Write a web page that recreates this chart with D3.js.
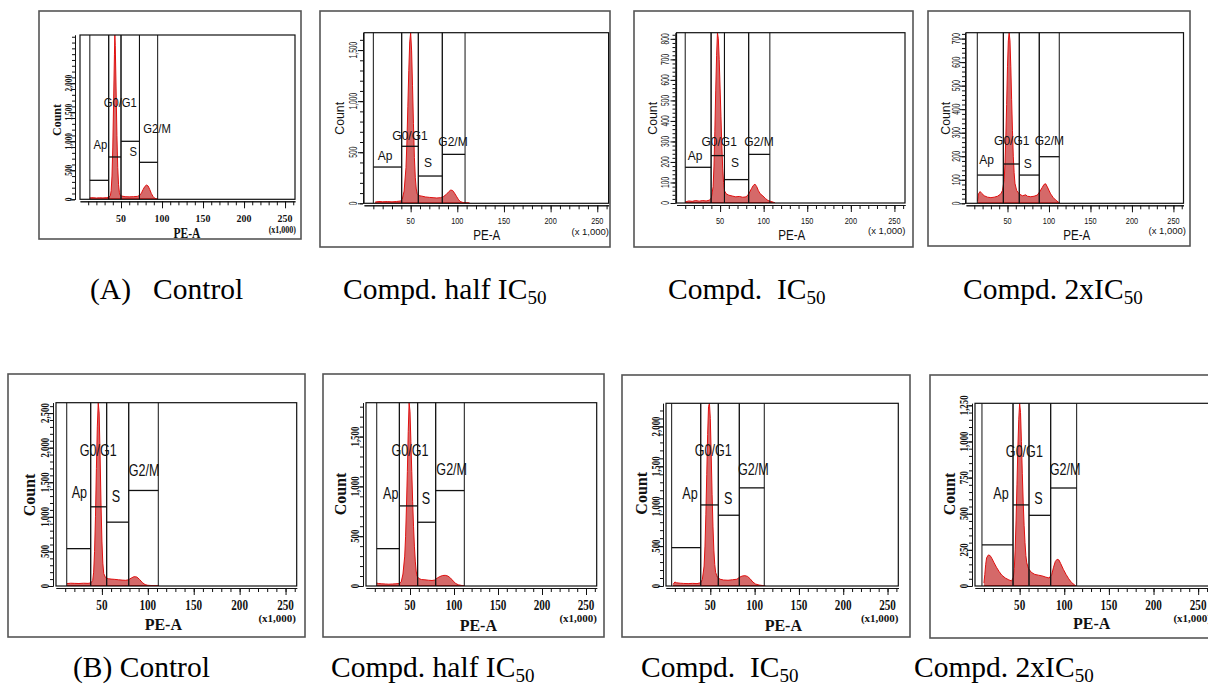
<!DOCTYPE html>
<html>
<head>
<meta charset="utf-8">
<script src="https://cdn.jsdelivr.net/npm/d3@7"></script>
<style>
body{margin:0;background:#fff;}
text{white-space:pre;}
</style>
</head>
<body>
<svg id="fig" width="1208" height="690"></svg>
<script>
var W = 1208, H = 690;
var peMax = 262.144;   // PE-A axis goes to 2^18 (x1,000)

var gateNames = ["Ap", "G0/G1", "S", "G2/M"];
var peLabels = [50, 100, 150, 200, 250];
var peTicks = [10,20,30,40,50,60,70,80,90,100,110,120,130,140,150,160,170,180,190,200,210,220,230,240,250,260];

// histograms: [PE-A (x1,000), count]
var histA1 = [[12,25],[16,28],[20,22],[24,26],[28,24],[32,28],[35,35],[37,60],[38,150],[39,400],[40,900],[41,1700],[42,2500],[42.5,2830],[43,2650],[44,1900],[45,1100],[46,550],[47,250],[48,120],[49,70],[51,55],[55,45],[60,42],[65,45],[70,50],[73,70],[75,110],[77,170],[79,220],[81,245],[83,230],[85,170],[87,100],[89,50],[91,20],[93,8],[95,0]];
var histA2 = [[12,12],[16,18],[20,15],[25,17],[30,14],[35,18],[39,22],[41,40],[43,120],[45,350],[46,600],[47,950],[48,1300],[49,1580],[50,1670],[51,1500],[52,1150],[53,780],[54,450],[55,250],[56,140],[57,95],[59,75],[62,70],[66,62],[70,58],[74,55],[78,52],[82,55],[85,65],[88,85],[91,115],[93,130],[95,125],[97,100],[99,70],[101,40],[103,18],[106,8],[110,5],[113,0]];
var histA3 = [[10,5],[14,10],[18,8],[22,12],[26,9],[30,12],[34,10],[38,14],[40,25],[42,80],[43,180],[44,350],[45,550],[46,720],[47,830],[48,800],[49,700],[50,560],[51,420],[52,280],[53,170],[54,100],[55,60],[57,45],[60,38],[64,34],[68,30],[72,32],[76,28],[80,30],[83,45],[86,70],[88,85],[90,92],[92,80],[94,60],[96,45],[99,35],[102,22],[105,12],[108,8],[111,4],[113,0]];
var histA4 = [[14,10],[15,40],[17,50],[19,42],[22,32],[26,26],[30,24],[34,26],[38,30],[42,40],[44,55],[46,100],[47,170],[48,280],[49,420],[50,580],[51,690],[52,725],[53,690],[54,580],[55,440],[56,310],[57,200],[58,130],[59,85],[61,55],[64,40],[68,32],[72,36],[74,30],[78,28],[82,30],[86,35],[89,50],[92,68],[94,80],[96,83],[98,70],[100,55],[102,40],[105,25],[108,14],[111,6],[113,0]];
var histB1 = [[12,35],[16,40],[20,38],[25,36],[30,40],[35,38],[38,45],[40,80],[41,200],[42,500],[43,1000],[44,1700],[45,2300],[46,2650],[47,2500],[48,1900],[49,1200],[50,650],[51,330],[52,180],[54,120],[57,105],[60,100],[64,96],[68,90],[72,85],[76,82],[79,90],[82,115],[85,135],[88,130],[91,95],[94,50],[97,20],[100,10],[105,6],[110,4],[112,0]];
var histB2 = [[12,30],[14,25],[18,22],[22,20],[26,18],[30,20],[34,22],[38,25],[40,40],[42,120],[44,300],[45,500],[46,800],[47,1150],[48,1550],[49,1840],[50,1750],[51,1450],[52,1150],[53,850],[54,600],[55,400],[56,250],[57,150],[58,100],[60,75],[63,65],[67,62],[71,58],[75,55],[78,60],[81,80],[84,95],[87,105],[90,107],[93,100],[96,80],[99,50],[102,25],[105,12],[109,5],[112,0]];
var histB3 = [[8,20],[10,50],[12,40],[16,35],[20,32],[25,30],[30,33],[35,30],[39,40],[41,80],[43,250],[44,500],[45,900],[46,1400],[47,1900],[48,2250],[49,2290],[50,2100],[51,1650],[52,1150],[53,750],[54,450],[55,270],[56,170],[58,110],[61,85],[65,75],[70,72],[75,78],[80,85],[83,110],[86,125],[89,130],[92,120],[95,90],[98,50],[101,25],[105,12],[109,6],[112,0]];
var histB4 = [[10,20],[11,80],[12,150],[13,195],[15,215],[17,210],[19,190],[21,165],[24,130],[27,100],[30,75],[34,55],[38,42],[41,35],[43,60],[44,120],[45,250],[46,450],[47,700],[48,950],[49,1150],[50,1264],[51,1200],[52,1000],[53,780],[54,580],[55,420],[56,300],[57,210],[58,160],[60,120],[63,95],[67,80],[71,75],[75,70],[79,62],[83,55],[86,80],[88,130],[90,170],[92,185],[94,180],[96,155],[99,115],[102,80],[105,50],[108,25],[111,10],[113,0]];

// gates: [from, to, marker level] in order Ap, G0/G1, S, G2/M
var gatesA1 = [[12,35,327],[35,50,729],[50,72.5,999],[72.5,94.7,637]];
var gatesA2 = [[10,40.4,355],[40.4,58.2,558],[58.2,83.9,267],[83.9,108.3,479]];
var gatesA3 = [[10,39.7,174],[39.7,55,231],[55,82.8,114],[82.8,107.1,237]];
var gatesA4 = [[13.6,45,120],[45,64.2,167],[64.2,88.3,120],[88.3,112.4,198]];
var gatesB1 = [[11.7,37.8,540],[37.8,55.2,1145],[55.2,79.2,923],[79.2,111.4,1381]];
var gatesB2 = [[12.2,37.9,375],[37.9,58.7,804],[58.7,79.2,640],[79.2,111.7,958]];
var gatesB3 = [[6.4,39.2,481],[39.2,59,1016],[59,82.7,887],[82.7,110.9,1230]];
var gatesB4 = [[7.8,42.6,284],[42.6,60.5,561],[60.5,84.8,489],[84.8,113.9,678]];

var countMaxA = [2830, 1670, 830, 725];
var countMaxB = [2650, 1840, 2290, 1264];
var countLabelsA = [[0,500,1000,1500,2000],[0,500,1000,1500],[0,100,200,300,400,500,600,700,800],[0,100,200,300,400,500,600,700]];
var countLabelsB = [[0,500,1000,1500,2000,2500],[0,500,1000,1500],[0,500,1000,1500,2000],[0,250,500,750,1000,1250]];
var countMinorA = [100, 100, 20, 20];
var countMinorB = [100, 100, 100, 50];

var captionA = ["(A)   Control", "Compd. half IC", "Compd.  IC", "Compd. 2xIC"];
var captionB = ["(B) Control", "Compd. half IC", "Compd.  IC", "Compd. 2xIC"];
var captionSubA = ["", "50", "50", "50"];
var captionSubB = ["", "50", "50", "50"];

// ---- layout (pixels) ----
var SERIF = "'Liberation Serif','Times New Roman',serif";
var SANS = "'Liberation Sans',Arial,sans-serif";
var styles = {
  serifA: {family:SERIF, weight:"bold", yTick:[10.5,0.7], xTick:[11,0.9], count:[13,0.92], pea:[15,0.77], mult:[10,0.8], multText:"(x1,000)", gate:[12.5,0.9]},
  sansA:  {family:SANS, weight:"normal", yTick:[10,0.67], xTick:[9.8,0.75], count:[13,0.95], pea:[14,0.83], mult:[9.5,1], multText:"(x 1,000)", gate:[12,1]},
  serifB: {family:SERIF, weight:"bold", yTick:[13,0.68], xTick:[14.5,0.77], count:[16,1], pea:[16,1], mult:[11,1], multText:"(x1,000)", gate:[17,0.74]}
};

var layout = [
  {hist:histA1, gates:gatesA1, ymax:countMaxA[0], ylab:countLabelsA[0], ymin:countMinorA[0], style:"serifA",
   box:[39,11,301,239], frame:[80,35,295,199.3], gap:5, yOff:6.7, xOff:19,
   count:[56.7,120], pea:[187,232.3], mult:[296,229.5],
   gl:[[24.9,935],[49.1,1659],[64.8,815],[94,1223]]},
  {hist:histA2, gates:gatesA2, ymax:countMaxA[1], ylab:countLabelsA[1], ymin:countMinorA[1], style:"sansA",
   box:[320,11,610,247], frame:[364,32.7,608.6,203.3], gap:1, yOff:10, xOff:17.4,
   count:[339.3,118.3], pea:[486.7,235], mult:[609,231.7],
   gl:[[22.5,463],[49.3,658],[68.6,394],[95.4,600]]},
  {hist:histA3, gates:gatesA3, ymax:countMaxA[2], ylab:countLabelsA[2], ymin:countMinorA[2], style:"sansA",
   box:[634,11,913,247], frame:[676.5,32.7,905,203], gap:1, yOff:10, xOff:17.7,
   count:[652.7,118.3], pea:[791.7,235.3], mult:[905.5,230.7],
   gl:[[21.4,229],[48.9,300],[67.1,195],[94.6,300]]},
  {hist:histA4, gates:gatesA4, ymax:countMaxA[3], ylab:countLabelsA[3], ymin:countMinorA[3], style:"sansA",
   box:[928,11,1190,246], frame:[966,32.7,1183.5,203.3], gap:1, yOff:9, xOff:17.4,
   count:[945.7,118.3], pea:[1076.7,235.3], mult:[1186,230.7],
   gl:[[24.9,187],[55.1,264],[74.4,167],[100.4,264]]},
  {hist:histB1, gates:gatesB1, ymax:countMaxB[0], ylab:countLabelsB[0], ymin:countMinorB[0], style:"serifB",
   box:[8,374,305,637], frame:[56,402.7,296.7,586], gap:3, yOff:9, xOff:19,
   count:[29.3,495], pea:[163.3,624], mult:[296,618.3],
   gl:[[25.4,1352],[46.1,1961],[65.4,1294],[95.9,1681]]},
  {hist:histB2, gates:gatesB2, ymax:countMaxB[1], ylab:countLabelsB[1], ymin:countMinorB[1], style:"serifB",
   box:[323,374,604,637], frame:[366,402.7,596.7,586], gap:3, yOff:8.7, xOff:19,
   count:[340.7,494], pea:[478.3,625], mult:[597,618.3],
   gl:[[28.1,938],[50,1367],[68.2,887],[97.4,1173]]},
  {hist:histB3, gates:gatesB3, ymax:countMaxB[2], ylab:countLabelsB[2], ymin:countMinorB[2], style:"serifB",
   box:[622,375,910,637], frame:[666,403.3,898.3,586], gap:3, yOff:7.7, xOff:19,
   count:[641.7,493.3], pea:[783.3,625], mult:[898.5,618.3],
   gl:[[27.1,1171],[53.4,1698],[70.3,1108],[98.5,1464]]},
  {hist:histB4, gates:gatesB4, ymax:countMaxB[3], ylab:countLabelsB[3], ymin:countMinorB[3], style:"serifB",
   box:[930,375,1220,638], frame:[975,403.3,1209,586], gap:3, yOff:8.3, xOff:19,
   count:[949.3,494], pea:[1091.7,623.3], mult:[1211,618.3],
   gl:[[29.1,646],[55.3,936],[71,611],[100.9,808]]}
];

var capXA = [90, 343, 668, 963], capYA = 299;
var capXB = [73, 331, 641, 914], capYB = 677;

var svg = d3.select("#fig");
svg.append("rect").attr("width", W).attr("height", H).attr("fill", "#fff");

function txt(g, s, x, y, o) {
  return g.append("text")
    .attr("transform", "translate(" + x + "," + y + ")" + (o.rot ? " rotate(" + o.rot + ")" : "") + " scale(" + (o.sx || 1) + "," + (o.sy || 1) + ")")
    .attr("text-anchor", o.anchor || "middle")
    .attr("dy", o.dy == null ? "0.35em" : o.dy)
    .style("font-family", o.family)
    .style("font-size", o.size + "px")
    .style("font-weight", o.weight || "normal")
    .attr("fill", "#111")
    .text(s);
}

function drawPanel(p, i) {
  var st = styles[p.style];
  var g = svg.append("g");
  var f = p.frame;

  g.append("rect")
    .attr("x", p.box[0]).attr("y", p.box[1])
    .attr("width", p.box[2] - p.box[0]).attr("height", p.box[3] - p.box[1])
    .attr("fill", "#fff").attr("stroke", "#555").attr("stroke-width", 1.6);

  var x = d3.scaleLinear().domain([0, peMax]).range([f[0], f[2]]);
  var y = d3.scaleLinear().domain([0, p.ymax]).range([f[3], f[1]]);

  var clipId = "clip" + i;
  g.append("clipPath").attr("id", clipId).append("rect")
    .attr("x", f[0]).attr("y", f[1]).attr("width", f[2] - f[0]).attr("height", f[3] - f[1]);

  // histogram
  var area = d3.area().x(function(d) { return x(d[0]); }).y0(y(0)).y1(function(d) { return y(d[1]); });
  var line = d3.line().x(function(d) { return x(d[0]); }).y(function(d) { return y(d[1]); });
  var hg = g.append("g").attr("clip-path", "url(#" + clipId + ")");
  hg.append("path").datum(p.hist).attr("d", area).attr("fill", "#cf5454").attr("fill-opacity", 0.88);
  hg.append("path").datum(p.hist).attr("d", line).attr("fill", "none").attr("stroke", "#e01010").attr("stroke-width", 1);
  hg.append("line").attr("x1", x(p.hist[0][0])).attr("x2", x(p.hist[p.hist.length - 1][0]))
    .attr("y1", y(0) - 0.5).attr("y2", y(0) - 0.5).attr("stroke", "#e01010").attr("stroke-width", 1);

  // gates
  p.gates.forEach(function(gt, k) {
    [gt[0], gt[1]].forEach(function(v) {
      g.append("line").attr("x1", x(v)).attr("x2", x(v)).attr("y1", f[1]).attr("y2", f[3])
        .attr("stroke", "#111").attr("stroke-width", 1);
    });
    g.append("line").attr("x1", x(gt[0])).attr("x2", x(gt[1])).attr("y1", y(gt[2])).attr("y2", y(gt[2]))
      .attr("stroke", "#111").attr("stroke-width", 1.3);
    txt(g, gateNames[k], x(p.gl[k][0]), y(p.gl[k][1]), {family:SANS, size:st.gate[0], sx:st.gate[1]});
  });

  // frame
  g.append("rect").attr("x", f[0]).attr("y", f[1]).attr("width", f[2] - f[0]).attr("height", f[3] - f[1])
    .attr("fill", "none").attr("stroke", "#111").attr("stroke-width", 1.2);

  // y axis
  var ax = f[0] - p.gap;
  var yMinorTicks = d3.range(0, p.ymax + 0.001, p.ymin);
  g.append("g").attr("transform", "translate(" + ax + ",0)")
    .call(d3.axisLeft(y).tickValues(yMinorTicks).tickSize(3).tickSizeOuter(0).tickFormat(""));
  g.append("g").attr("transform", "translate(" + ax + ",0)")
    .call(d3.axisLeft(y).tickValues(p.ylab).tickSize(5).tickSizeOuter(0).tickFormat(""));
  p.ylab.forEach(function(v) {
    txt(g, d3.format(",")(v), ax - p.yOff, y(v), {family:st.family, weight:st.weight, size:st.yTick[0], sx:st.yTick[1], rot:-90});
  });

  // x axis
  var ay = f[3] + 2;
  g.append("g").attr("transform", "translate(0," + ay + ")")
    .call(d3.axisBottom(x).tickValues(peTicks).tickSize(4).tickSizeOuter(0).tickFormat(""));
  g.append("g").attr("transform", "translate(0," + ay + ")")
    .call(d3.axisBottom(x).tickValues(peLabels).tickSize(7).tickSizeOuter(0).tickFormat(""));
  g.selectAll(".domain").attr("stroke", "#111");
  g.selectAll(".tick line").attr("stroke", "#111");
  peLabels.forEach(function(v) {
    txt(g, String(v), x(v), f[3] + p.xOff, {family:st.family, weight:st.weight, size:st.xTick[0], sx:st.xTick[1]});
  });

  txt(g, "Count", p.count[0], p.count[1], {family:st.family, weight:st.weight, size:st.count[0], sx:st.count[1], rot:-90});
  txt(g, "PE-A", p.pea[0], p.pea[1], {family:st.family, weight:st.weight, size:st.pea[0], sx:st.pea[1]});
  txt(g, st.multText, p.mult[0], p.mult[1], {family:st.family, weight:st.weight, size:st.mult[0], sx:st.mult[1], anchor:"end"});
}

layout.forEach(drawPanel);

function caption(s, sub, x0, y0) {
  var t = svg.append("text").attr("x", x0).attr("y", y0)
    .style("font-family", SERIF).style("font-size", "29.5px").attr("fill", "#000");
  t.append("tspan").text(s);
  if (sub) t.append("tspan").attr("dy", 5).style("font-size", "19px").text(sub);
}
captionA.forEach(function(s, i) { caption(s, captionSubA[i], capXA[i], capYA); });
captionB.forEach(function(s, i) { caption(s, captionSubB[i], capXB[i], capYB); });
</script>
</body>
</html>
